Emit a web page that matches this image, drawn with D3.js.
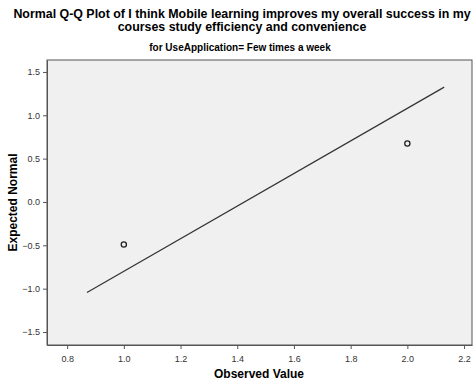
<!DOCTYPE html>
<html><head><meta charset="utf-8">
<script src="https://cdn.jsdelivr.net/npm/d3@7"></script>
<style>body{margin:0;background:#fff;}svg{display:block;font-family:"Liberation Sans",Arial,sans-serif;}</style>
</head><body><svg id="c" width="474" height="381"></svg>
<script>
const observed = [1.0, 2.0];
const expectedNormal = [-0.49, 0.675];
const lineX = [0.87, 2.13];
const lineY = [-1.045, 1.325];
const xTicks = [0.8, 1.0, 1.2, 1.4, 1.6, 1.8, 2.0, 2.2];
const yTicks = [-1.5, -1.0, -0.5, 0.0, 0.5, 1.0, 1.5];
const titleLines = ["Normal Q-Q Plot of I think Mobile learning improves my overall success in my", "courses study efficiency and convenience"];
const subtitle = "for UseApplication= Few times a week";

const svg = d3.select("#c");
const L = 47, R = 472, T = 60, B = 345;
const x = d3.scaleLinear().domain([0.729, 2.228]).range([L, R]);
const y = d3.scaleLinear().domain([-1.65, 1.638]).range([B, T]);

svg.append("rect").attr("x", L).attr("y", T).attr("width", R - L).attr("height", B - T)
  .attr("fill", "#f0f0f0").attr("stroke", "#555").attr("stroke-width", 1);

const xa = svg.append("g").attr("transform", `translate(0,${B})`)
  .call(d3.axisBottom(x).tickValues(xTicks).tickFormat(d3.format(".1f")).tickSize(4).tickSizeOuter(0));
const ya = svg.append("g").attr("transform", `translate(${L},0)`)
  .call(d3.axisLeft(y).tickValues(yTicks).tickFormat(d3.format(".1f")).tickSize(4).tickSizeOuter(0));
[xa, ya].forEach(a => {
  a.select(".domain").attr("stroke", "#555");
  a.selectAll(".tick line").attr("stroke", "#555");
  a.selectAll(".tick text").attr("fill", "#333").attr("font-size", 9).attr("font-family", "Liberation Sans, Arial, sans-serif");
});
xa.selectAll(".tick text").attr("dy", "1.1em");

svg.append("line")
  .attr("x1", x(lineX[0])).attr("y1", y(lineY[0]))
  .attr("x2", x(lineX[1])).attr("y2", y(lineY[1]))
  .attr("stroke", "#333").attr("stroke-width", 1.2);

svg.selectAll("circle.pt").data(observed).enter().append("circle")
  .attr("class", "pt")
  .attr("cx", d => x(d)).attr("cy", (d, i) => y(expectedNormal[i]))
  .attr("r", 2.6).attr("fill", "none").attr("stroke", "#222").attr("stroke-width", 1.3);

svg.selectAll("text.title").data(titleLines).enter().append("text")
  .attr("class", "title")
  .attr("x", 242).attr("y", (d, i) => 18 + i * 13)
  .attr("text-anchor", "middle").attr("font-size", 12.4).attr("font-weight", "bold").attr("fill", "#000")
  .text(d => d);

svg.append("text").attr("x", 240).attr("y", 51).attr("text-anchor", "middle")
  .attr("font-size", 10).attr("font-weight", "bold").attr("fill", "#000").text(subtitle);

svg.append("text").attr("x", 259).attr("y", 378).attr("text-anchor", "middle")
  .attr("font-size", 12).attr("font-weight", "bold").attr("fill", "#000").text("Observed Value");

svg.append("text").attr("transform", `translate(17,${(T + B) / 2}) rotate(-90)`).attr("text-anchor", "middle")
  .attr("font-size", 12).attr("font-weight", "bold").attr("fill", "#000").text("Expected Normal");
</script></body></html>
